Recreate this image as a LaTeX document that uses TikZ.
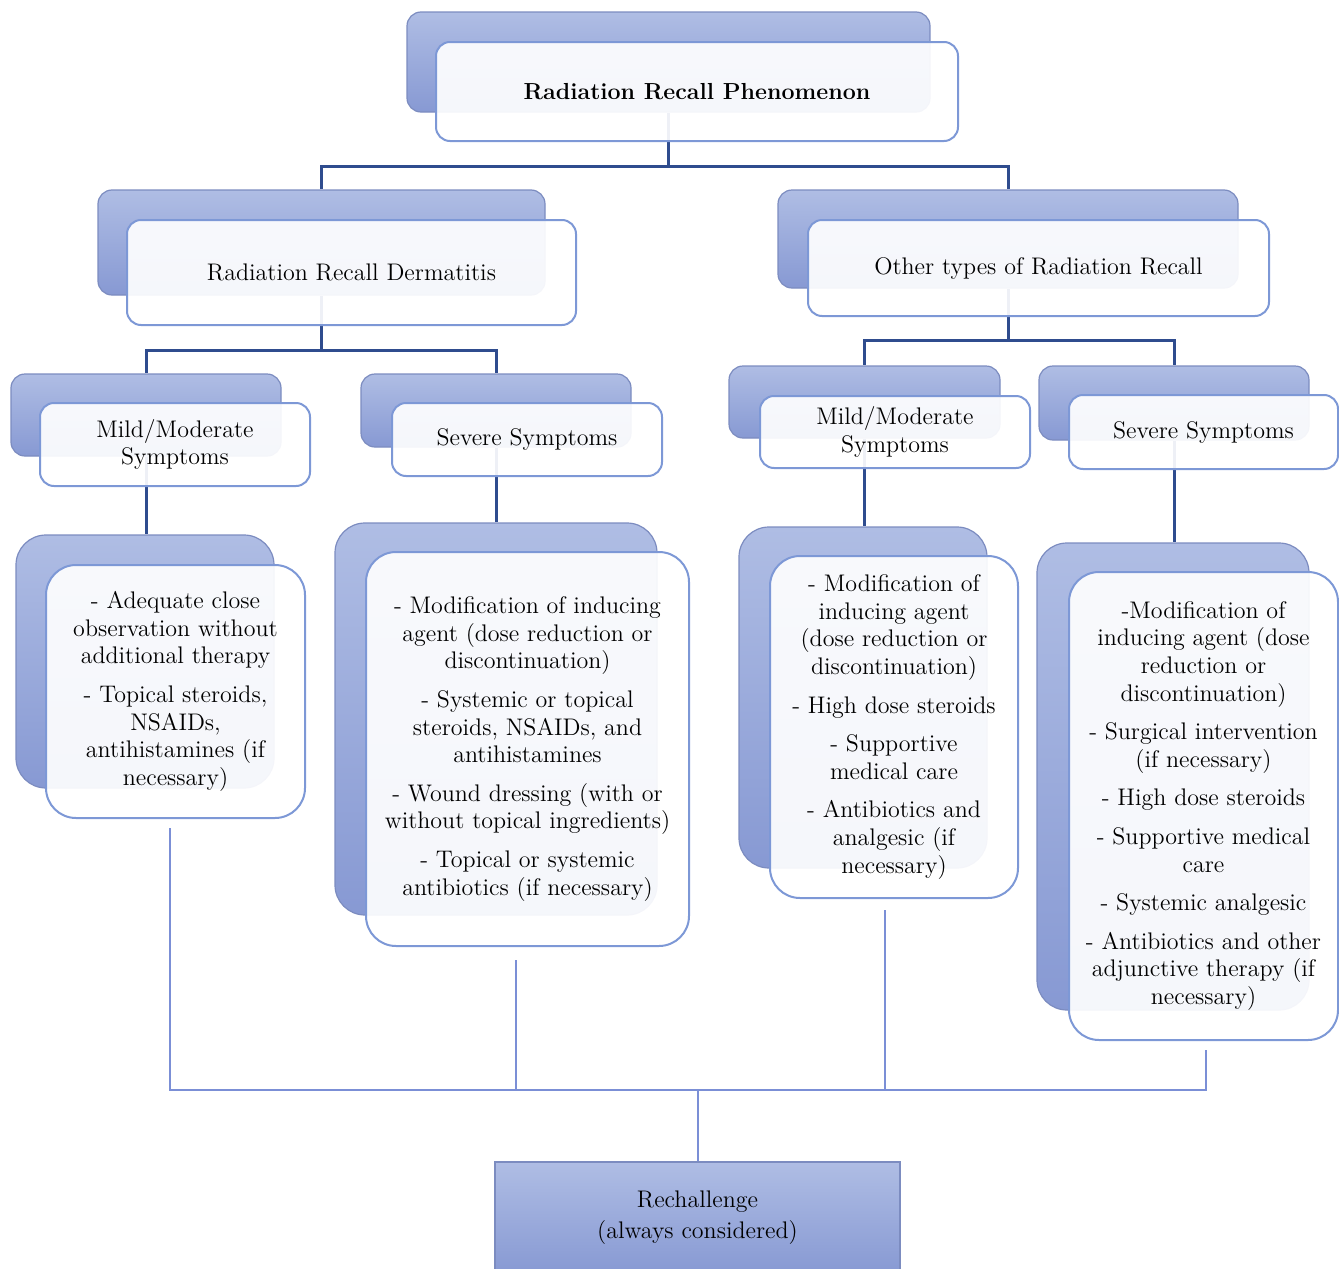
\documentclass[tikz,border=0pt]{standalone}
\usetikzlibrary{calc}
\definecolor{backtop}{HTML}{AFBDE4}
\definecolor{backbot}{HTML}{8799D3}
\definecolor{backline}{HTML}{7C8CC0}
\definecolor{frontline}{HTML}{7D98D6}
\definecolor{linkdark}{HTML}{2F4C8E}
\definecolor{linklight}{HTML}{7B8FD6}
\tikzset{
  backbox/.style={draw=backline, line width=0.6pt, top color=backtop, bottom color=backbot,
    rounded corners=7pt, inner sep=0pt},
  frontbox/.style={draw=frontline, line width=1pt, fill=white, fill opacity=0.92, text opacity=1,
    rounded corners=7pt, align=center, inner sep=0pt, font=\fontsize{12}{13.8}\selectfont},
  bigback/.style={backbox, rounded corners=15pt},
  bigfront/.style={frontbox, rounded corners=15pt},
  link/.style={draw=linkdark, line width=1.5pt},
  buslink/.style={draw=linklight, line width=1pt},
}

\begin{document}
\begin{tikzpicture}[x=0.5pt, y=-0.5pt]
    \useasboundingbox (0,0) rectangle (1339,1269);

    % back boxes
    \node[backbox, minimum width=261.5pt, minimum height=50pt] (topb) at (668.5,62) {};
    \node[backbox, minimum width=223.5pt, minimum height=52.5pt] (rrdb) at (321.5,242.5) {};
    \node[backbox, minimum width=230pt, minimum height=49pt] (othb) at (1008,239) {};
    \node[backbox, minimum width=135pt, minimum height=41pt] (a3b) at (146,415) {};
    \node[backbox, minimum width=135pt, minimum height=36.5pt] (b3b) at (496,410.5) {};
    \node[backbox, minimum width=135.5pt, minimum height=36pt] (c3b) at (864.5,402) {};
    \node[backbox, minimum width=135pt, minimum height=37pt] (d3b) at (1174,403) {};
    \node[bigback, minimum width=129pt, minimum height=126.5pt] (a4b) at (145,661.5) {};
    \node[bigback, minimum width=161pt, minimum height=196pt] (b4b) at (496,719) {};
    \node[bigback, minimum width=124pt, minimum height=170.5pt] (c4b) at (863,697.5) {};
    \node[bigback, minimum width=136pt, minimum height=233.5pt] (d4b) at (1173,776.5) {};

    % connectors
    \draw[link] (topb.south) -- ++(0,54) -| (rrdb.north);
    \draw[link] (topb.south) -- ++(0,54) -| (othb.north);
    \draw[link] (rrdb.south) -- ++(0,55) -| (a3b.north);
    \draw[link] (rrdb.south) -- ++(0,55) -| (b3b.north);
    \draw[link] (othb.south) -- ++(0,52) -| (c3b.north);
    \draw[link] (othb.south) -- ++(0,52) -| (d3b.north);
    \draw[link] (a3b.south) -- (a3b.south |- a4b.north);
    \draw[link] (b3b.south) -- (b3b.south |- b4b.north);
    \draw[link] (c3b.south) -- (c3b.south |- c4b.north);
    \draw[link] (d3b.south) -- (d3b.south |- d4b.north);

    % front boxes
    \node[frontbox, minimum width=261pt, minimum height=49.5pt,
      font=\fontsize{11.6}{13.8}\selectfont\bfseries] (top) at (697,91.5) {Radiation Recall Phenomenon};
    \node[frontbox, minimum width=224.5pt, minimum height=52.5pt] (rrd) at (351.5,272.5) {Radiation Recall Dermatitis};
    \node[frontbox, minimum width=230.5pt, minimum height=48pt] (oth) at (1038.5,268) {Other types of Radiation Recall};
    \node[frontbox, minimum width=135pt, minimum height=41.5pt] (a3) at (175,444.5) {Mild/Moderate\\Symptoms};
    \node[frontbox, minimum width=135pt, minimum height=36.5pt] (b3) at (527,439.5) {Severe Symptoms};
    \node[frontbox, minimum width=135pt, minimum height=36pt] (c3) at (895,432) {Mild/Moderate\\Symptoms};
    \node[frontbox, minimum width=134.5pt, minimum height=37pt] (d3) at (1203.5,432) {Severe Symptoms};

    \node[bigfront, minimum width=129.5pt, minimum height=126.5pt] (a4) at (175.5,691.5)
      {- Adequate close\\observation without\\additional therapy\\[5.5pt]
       - Topical steroids,\\NSAIDs,\\antihistamines (if\\necessary)};
    \node[bigfront, minimum width=161.5pt, minimum height=197pt] (b4) at (527.5,749)
      {- Modification of inducing\\agent (dose reduction or\\discontinuation)\\[5.5pt]
       - Systemic or topical\\steroids, NSAIDs, and\\antihistamines\\[5.5pt]
       - Wound dressing (with or\\without topical ingredients)\\[5.5pt]
       - Topical or systemic\\antibiotics (if necessary)};
    \node[bigfront, minimum width=124pt, minimum height=171pt] (c4) at (894,727)
      {- Modification of\\inducing agent\\(dose reduction or\\discontinuation)\\[5.5pt]
       - High dose steroids\\[5.5pt]
       - Supportive\\medical care\\[5.5pt]
       - Antibiotics and\\analgesic (if\\necessary)};
    \node[bigfront, minimum width=134.5pt, minimum height=234pt] (d4) at (1203.5,806)
      {-Modification of\\inducing agent (dose\\reduction or\\discontinuation)\\[5.5pt]
       - Surgical intervention\\(if necessary)\\[5.5pt]
       - High dose steroids\\[5.5pt]
       - Supportive medical\\care\\[5.5pt]
       - Systemic analgesic\\[5.5pt]
       - Antibiotics and other\\adjunctive therapy (if\\necessary)};

    % rechallenge
    \node[draw=backline, line width=0.6pt, top color=backtop, bottom color=backbot,
      minimum width=202.5pt, minimum height=56pt, align=center,
      font=\fontsize{12}{15.5}\selectfont] (rech) at (697.5,1218) {Rechallenge\\(always considered)};

    \coordinate (a4e) at (170,828);
    \coordinate (b4e) at (516,960);
    \coordinate (c4e) at (885,910);
    \coordinate (d4e) at (1206,1050);
    \coordinate (bus) at (697.5,1090);
    \draw[buslink] (a4e) |- (bus) -| (d4e);
    \draw[buslink] (b4e) -- (b4e |- bus);
    \draw[buslink] (c4e) -- (c4e |- bus);
    \draw[buslink] (bus) -- (rech.north);
\end{tikzpicture}
\end{document}
